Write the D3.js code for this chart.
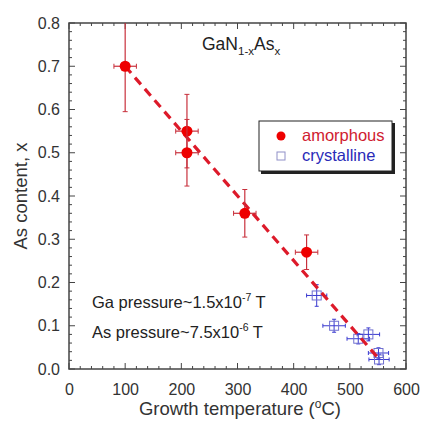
<!DOCTYPE html>
<html><head><meta charset="utf-8">
<script src="https://cdn.jsdelivr.net/npm/d3@7"></script>
<style>body{margin:0;background:#fff;}svg{display:block;font-family:Arial,"Liberation Sans",sans-serif;}</style>
</head><body>
<svg id="c" width="424" height="423"></svg>
<script>
// Data
const amorphTemp = [100, 210, 210, 313, 423];
const amorphX    = [0.70, 0.55, 0.50, 0.36, 0.27];
const amorphErrX = [0.105, 0.085, 0.077, 0.055, 0.04];
const amorphErrT = [20, 20, 20, 20, 20];

const crystTemp = [441, 472, 515, 533, 551, 552];
const crystX    = [0.17, 0.10, 0.07, 0.08, 0.037, 0.022];
const crystErrX = [0.025, 0.015, 0.012, 0.015, 0.012, 0.012];
const crystErrT = [18, 20, 20, 20, 18, 18];

const fitTemp = [100, 550];
const fitX    = [0.70, 0.026];

const xTicks = [0, 100, 200, 300, 400, 500, 600];
const yTicks = [0.0, 0.1, 0.2, 0.3, 0.4, 0.5, 0.6, 0.7, 0.8];

const svg = d3.select("#c");
const L = 69, R = 406, T = 23, B = 369;
const x = d3.scaleLinear().domain([0, 600]).range([L, R]);
const y = d3.scaleLinear().domain([0, 0.8]).range([B, T]);
const textCol = "#333";
const frameCol = "#444";

// Minor/major ticks inward on all four sides
const g = svg.append("g");
d3.range(0, 601, 20).forEach(v => {
  const len = v % 100 === 0 ? 6 : 3;
  g.append("line").attr("x1", x(v)).attr("x2", x(v)).attr("y1", B).attr("y2", B - len).attr("stroke", frameCol).attr("stroke-width", 1);
  g.append("line").attr("x1", x(v)).attr("x2", x(v)).attr("y1", T).attr("y2", T + len).attr("stroke", frameCol).attr("stroke-width", 1);
});
d3.range(0, 41).forEach(i => {
  const v = i * 0.02;
  const len = i % 5 === 0 ? 6 : 3;
  g.append("line").attr("y1", y(v)).attr("y2", y(v)).attr("x1", L).attr("x2", L + len).attr("stroke", frameCol).attr("stroke-width", 1);
  g.append("line").attr("y1", y(v)).attr("y2", y(v)).attr("x1", R).attr("x2", R - len).attr("stroke", frameCol).attr("stroke-width", 1);
});

// Axes labels via d3 axes
const xAxis = svg.append("g").attr("transform", `translate(0,${B})`)
  .call(d3.axisBottom(x).tickValues(xTicks).tickSize(0).tickPadding(14.5).tickFormat(d3.format("d")));
xAxis.select(".domain").remove();
xAxis.selectAll("text").attr("font-size", 16).attr("fill", textCol).attr("font-family", "Arial, Liberation Sans, sans-serif");

const yAxis = svg.append("g").attr("transform", `translate(${L},0)`)
  .call(d3.axisLeft(y).tickValues(yTicks).tickSize(0).tickPadding(9).tickFormat(d3.format(".1f")));
yAxis.select(".domain").remove();
yAxis.selectAll("text").attr("font-size", 16).attr("fill", textCol).attr("font-family", "Arial, Liberation Sans, sans-serif");

// Frame
svg.append("rect").attr("x", L).attr("y", T).attr("width", R - L).attr("height", B - T)
  .attr("fill", "none").attr("stroke", frameCol).attr("stroke-width", 1.5);

// Axis titles
svg.append("text").attr("x", 240).attr("y", 415).attr("text-anchor", "middle")
  .attr("font-size", 18.5).attr("fill", textCol)
  .html('Growth temperature (<tspan dy="-7" font-size="12">o</tspan><tspan dy="7">C)</tspan>');
svg.append("text").attr("transform", `translate(27,${(T + B) / 2}) rotate(-90)`).attr("text-anchor", "middle")
  .attr("font-size", 18.5).attr("fill", textCol).text("As content, x");

// Title
svg.append("text").attr("x", 202).attr("y", 50).attr("font-size", 17.5).attr("fill", "#222")
  .html('GaN<tspan dy="5" font-size="11.5">1-x</tspan><tspan dy="-5">As</tspan><tspan dy="5" font-size="11.5">x</tspan>');

// Annotations
svg.append("text").attr("x", 92).attr("y", 308).attr("font-size", 16.5).attr("fill", "#222")
  .html('Ga pressure~1.5x10<tspan dy="-7" font-size="10.5">-7</tspan><tspan dy="7"> T</tspan>');
svg.append("text").attr("x", 92).attr("y", 338).attr("font-size", 16.5).attr("fill", "#222")
  .html('As pressure~7.5x10<tspan dy="-7" font-size="10.5">-6</tspan><tspan dy="7"> T</tspan>');

// Clip
svg.append("clipPath").attr("id", "clip").append("rect").attr("x", L).attr("y", T).attr("width", R - L).attr("height", B - T);
const plot = svg.append("g").attr("clip-path", "url(#clip)");

// Crystalline points
const cryst = crystTemp.map((t, i) => ({t, v: crystX[i], ev: crystErrX[i], et: crystErrT[i]}));
const blue = "#3a3ad0";
cryst.forEach(d => {
  plot.append("line").attr("x1", x(d.t - d.et)).attr("x2", x(d.t + d.et)).attr("y1", y(d.v)).attr("y2", y(d.v)).attr("stroke", blue).attr("stroke-width", 1);
  plot.append("line").attr("x1", x(d.t)).attr("x2", x(d.t)).attr("y1", y(d.v - d.ev)).attr("y2", y(d.v + d.ev)).attr("stroke", blue).attr("stroke-width", 1);
  [d.t - d.et, d.t + d.et].forEach(tt => {
    plot.append("line").attr("x1", x(tt)).attr("x2", x(tt)).attr("y1", y(d.v) - 2).attr("y2", y(d.v) + 2).attr("stroke", blue);
  });
  [d.v - d.ev, d.v + d.ev].forEach(vv => {
    plot.append("line").attr("x1", x(d.t) - 2).attr("x2", x(d.t) + 2).attr("y1", y(vv)).attr("y2", y(vv)).attr("stroke", blue);
  });
  plot.append("rect").attr("x", x(d.t) - 4.5).attr("y", y(d.v) - 4.5).attr("width", 9).attr("height", 9)
    .attr("fill", "none").attr("stroke", "#7070d0").attr("stroke-width", 1);
});

// Fit line
plot.append("path").datum(fitTemp.map((t, i) => [t, fitX[i]]))
  .attr("d", d3.line().x(d => x(d[0])).y(d => y(d[1])))
  .attr("stroke", "#dd1a2a").attr("stroke-width", 3.2).attr("stroke-dasharray", "9,6").attr("fill", "none");

// Amorphous points
const am = amorphTemp.map((t, i) => ({t, v: amorphX[i], ev: amorphErrX[i], et: amorphErrT[i]}));
const errRed = "#c8303c";
am.forEach(d => {
  plot.append("line").attr("x1", x(d.t - d.et)).attr("x2", x(d.t + d.et)).attr("y1", y(d.v)).attr("y2", y(d.v)).attr("stroke", errRed).attr("stroke-width", 1.2);
  plot.append("line").attr("x1", x(d.t)).attr("x2", x(d.t)).attr("y1", y(d.v - d.ev)).attr("y2", y(d.v + d.ev)).attr("stroke", errRed).attr("stroke-width", 1.2);
  [d.t - d.et, d.t + d.et].forEach(tt => {
    plot.append("line").attr("x1", x(tt)).attr("x2", x(tt)).attr("y1", y(d.v) - 2.5).attr("y2", y(d.v) + 2.5).attr("stroke", errRed);
  });
  [d.v - d.ev, d.v + d.ev].forEach(vv => {
    plot.append("line").attr("x1", x(d.t) - 2.5).attr("x2", x(d.t) + 2.5).attr("y1", y(vv)).attr("y2", y(vv)).attr("stroke", errRed);
  });
  plot.append("circle").attr("cx", x(d.t)).attr("cy", y(d.v)).attr("r", 5.5).attr("fill", "#ee0000");
});

// Legend
const lg = svg.append("g");
lg.append("rect").attr("x", 261).attr("y", 123).attr("width", 134).attr("height", 51).attr("fill", "#222");
lg.append("rect").attr("x", 259).attr("y", 121).attr("width", 133).attr("height", 50).attr("fill", "#fff").attr("stroke", "#222").attr("stroke-width", 1);
lg.append("circle").attr("cx", 281).attr("cy", 136).attr("r", 4.5).attr("fill", "#ee0000");
lg.append("text").attr("x", 302).attr("y", 141).attr("font-size", 16.5).attr("fill", "#d02030").text("amorphous");
lg.append("rect").attr("x", 277).attr("y", 152).attr("width", 8).attr("height", 8).attr("fill", "none").attr("stroke", "#9090c8");
lg.append("text").attr("x", 302).attr("y", 161).attr("font-size", 16.5).attr("fill", "#2a2ab8").text("crystalline");
</script>
</body></html>
